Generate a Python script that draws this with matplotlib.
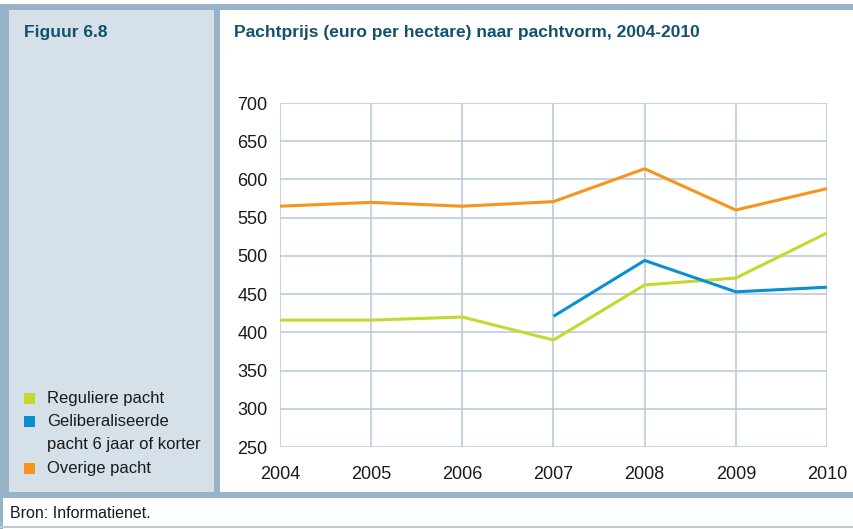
import matplotlib
matplotlib.use("Agg")
import matplotlib.pyplot as plt
from matplotlib.patches import Rectangle
from matplotlib import font_manager

years = [2004, 2005, 2006, 2007, 2008, 2009, 2010]
reguliere = [416, 416, 420, 390, 462, 471, 530]
geliberaliseerd_years = [2007, 2008, 2009, 2010]
geliberaliseerd = [421, 494, 453, 459]
overige = [565, 570, 565, 571, 614, 560, 588]
y_ticks = [250, 300, 350, 400, 450, 500, 550, 600, 650, 700]

names = {f.name for f in font_manager.fontManager.ttflist}
fam = ["Liberation Sans Narrow", "Liberation Sans", "DejaVu Sans"]
fam = [f for f in fam if f in names] + ["DejaVu Sans"]
plt.rcParams["font.family"] = fam

W, H = 854, 529
fig = plt.figure(figsize=(W / 100, H / 100), dpi=100)
fig.patch.set_facecolor("white")

border = "#97b3c7"
panel = "#d5e0e9"
title_col = "#13506f"

def rect(x0, y0, x1, y1, color, z=-10):
    fig.patches.append(Rectangle((x0 / W, 1 - y1 / H), (x1 - x0) / W, (y1 - y0) / H,
                                 transform=fig.transFigure, color=color, zorder=z, lw=0))

rect(0, 4, W, 10, border)          # top band
rect(0, 4, 9, 497, border)         # left band
rect(9, 10, 214, 492, panel)       # left panel
rect(214, 10, 220, 492, border)    # divider
rect(0, 492, W, 498, border)       # bottom band
rect(0, 498, 3, 529, border)       # left border bottom strip
rect(0, 526, W, 528, "#b9cbd8")    # bottom line

fig.text(24 / W, 1 - 32 / H, "Figuur 6.8", color=title_col, fontsize=12.5,
         fontweight="bold", va="center", ha="left")
fig.text(234 / W, 1 - 32 / H, "Pachtprijs (euro per hectare) naar pachtvorm, 2004-2010",
         color=title_col, fontsize=12.5, fontweight="bold", va="center", ha="left")
fig.text(10 / W, 1 - 513 / H, "Bron: Informatienet.", color="#1a1a1a", fontsize=11.5,
         va="center", ha="left")

ax = fig.add_axes([280 / W, 1 - 447 / H, (827 - 280) / W, (447 - 103) / H])
green, blue, orange = "#c4d82e", "#0a90d2", "#f7941d"
ax.plot(years, reguliere, color=green, lw=2.2, solid_capstyle="butt")
ax.plot(geliberaliseerd_years, geliberaliseerd, color=blue, lw=2.2, solid_capstyle="butt")
ax.plot(years, overige, color=orange, lw=2.2, solid_capstyle="butt")
ax.set_xlim(2004, 2010)
ax.set_ylim(250, 700)
ax.set_xticks(years)
ax.set_yticks(y_ticks)
ax.set_xticklabels([str(y) for y in years])
ax.grid(True, color="#b5c8d8", lw=1.1)
ax.set_axisbelow(True)
for s in ax.spines.values():
    s.set_visible(False)
ax.tick_params(length=0, labelsize=13, colors="#1a1a1a")
ax.tick_params(axis="y", pad=9)
ax.tick_params(axis="x", pad=14)
ax.patch.set_alpha(0)

legend_items = [(398, green, "Reguliere pacht"), (421, blue, "Geliberaliseerde"),
                (445, None, "pacht 6 jaar of korter"), (468, orange, "Overige pacht")]
for y, c, t in legend_items:
    if c:
        rect(24, y - 5, 35, y + 6, c, z=1)
    fig.text(47 / W, 1 - y / H, t, fontsize=12, color="#1a1a1a", va="center", ha="left")

fig.savefig("out.png", dpi=100)
